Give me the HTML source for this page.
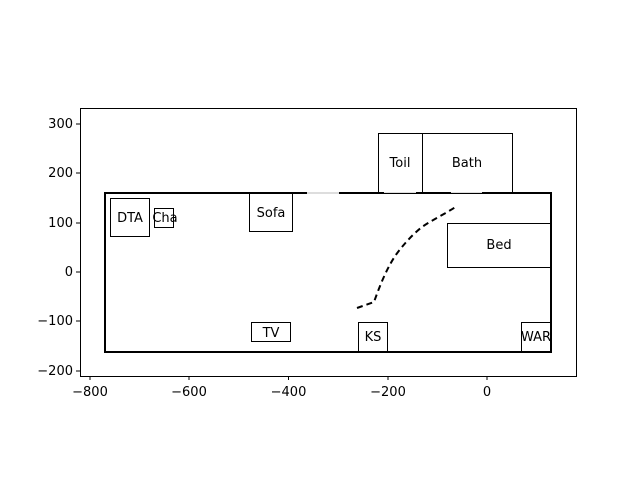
<!DOCTYPE html>
<html><head><style>body{margin:0;background:#fff}svg{display:block}text{font-family:"DejaVu Sans","Liberation Sans",sans-serif;font-size:13px}</style></head>
<body>
<svg width="640" height="480" xmlns="http://www.w3.org/2000/svg">
<rect width="640" height="480" fill="#fff"/>
<rect x="80.5" y="108.5" width="496" height="268" fill="none" stroke="#000" stroke-width="1"/>
<g stroke="#000" stroke-width="2" fill="none">
<polyline points="307,193 105,193 105,352 551,352 551,193 482,193"/>
<line x1="339" y1="193" x2="384" y2="193"/>
<line x1="416" y1="193" x2="451" y2="193"/>
</g>
<g stroke="#ddd" stroke-width="2">
<line x1="307" y1="193" x2="339" y2="193"/>
<line x1="384" y1="193" x2="416" y2="193"/>
<line x1="451" y1="193" x2="482" y2="193"/>
</g>
<g stroke="#000" stroke-width="1" fill="none">
<rect x="378.5" y="133.5" width="44" height="60"/>
<rect x="422.5" y="133.5" width="90" height="60"/>
<rect x="110.5" y="198.5" width="39" height="38"/>
<rect x="154.5" y="208.5" width="19" height="19"/>
<rect x="249.5" y="193.5" width="43" height="38"/>
<rect x="447.5" y="223.5" width="103" height="44"/>
<rect x="251.5" y="322.5" width="39" height="19"/>
<rect x="358.5" y="322.5" width="29" height="30"/>
<rect x="521.5" y="322.5" width="29" height="30"/>
</g>
<path d="M357,308 L374,302 C380,285 388,265 398,252 C405,243 412,235 422,227 C432,220 445,214 457,206" fill="none" stroke="#000" stroke-width="2" stroke-dasharray="6,4"/>
<g text-anchor="middle" fill="#000">
<text x="400" y="167">Toil</text>
<text x="467" y="167">Bath</text>
<text x="130" y="222">DTA</text>
<text x="165" y="222">Cha</text>
<text x="271" y="217">Sofa</text>
<text x="499" y="249">Bed</text>
<text x="271" y="337">TV</text>
<text x="373" y="341">KS</text>
<text x="536" y="341">WAR</text>
</g>
<g stroke="#000" stroke-width="1">
<line x1="90" y1="376" x2="90" y2="380"/><line x1="189" y1="376" x2="189" y2="380"/>
<line x1="288.5" y1="376" x2="288.5" y2="380"/><line x1="388" y1="376" x2="388" y2="380"/>
<line x1="487" y1="376" x2="487" y2="380"/>
<line x1="76" y1="124" x2="80" y2="124"/><line x1="76" y1="173" x2="80" y2="173"/>
<line x1="76" y1="223" x2="80" y2="223"/><line x1="76" y1="272" x2="80" y2="272"/>
<line x1="76" y1="321" x2="80" y2="321"/><line x1="76" y1="371" x2="80" y2="371"/>
</g>
<g text-anchor="middle">
<text x="90" y="396">−800</text>
<text x="189" y="396">−600</text>
<text x="288.5" y="396">−400</text>
<text x="388" y="396">−200</text>
<text x="487" y="396">0</text>
</g>
<g text-anchor="end">
<text x="73" y="128">300</text>
<text x="73" y="177">200</text>
<text x="73" y="227">100</text>
<text x="73" y="276">0</text>
<text x="73" y="325">−100</text>
<text x="73" y="375">−200</text>
</g>
</svg>
</body></html>
